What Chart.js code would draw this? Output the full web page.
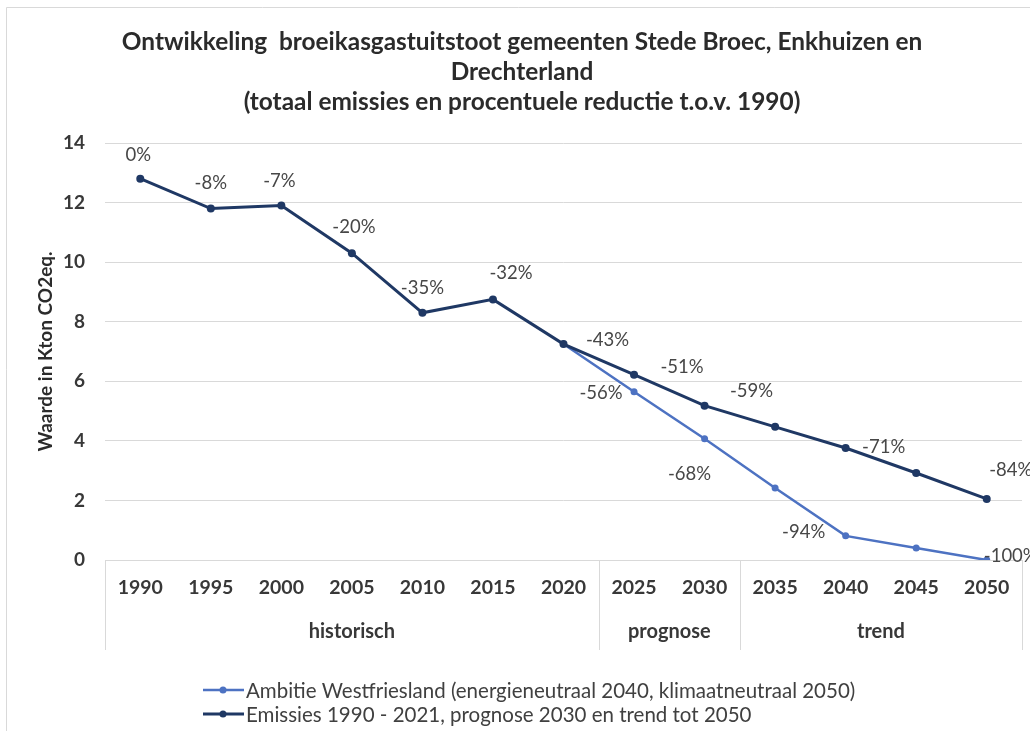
<!DOCTYPE html>
<html>
<head>
<meta charset="utf-8">
<script src="https://cdn.jsdelivr.net/npm/chart.js@4.4.1/dist/chart.umd.min.js"></script>
<style>
  html, body { margin: 0; padding: 0; background: #ffffff; }
  #wrap { width: 1030px; height: 731px; position: relative; }
</style>
</head>
<body>
<div id="wrap"><canvas id="c" width="1030" height="731"></canvas></div>
<script>
// ---- data ----
const categories = ['1990','1995','2000','2005','2010','2015','2020','2025','2030','2035','2040','2045','2050'];
const emissies = [12.8, 11.8, 11.9, 10.3, 8.3, 8.75, 7.25, 6.22, 5.18, 4.47, 3.76, 2.92, 2.05];
const ambitie  = [null, null, null, null, null, null, 7.25, 5.65, 4.07, 2.42, 0.81, 0.40, 0.0];
const emissiesLabels = ['0%','-8%','-7%','-20%','-35%','-32%','-43%','-51%','-59%',null,'-71%',null,'-84%'];
const ambitieLabels  = [null,null,null,null,null,null,null,'-56%','-68%',null,'-94%',null,'-100%'];
const groupNames = ['historisch','prognose','trend'];
const groupStart = [0, 7, 9];
const groupEnd   = [6, 8, 12];
const titleLines = ['Ontwikkeling  broeikasgastuitstoot gemeenten Stede Broec, Enkhuizen en','Drechterland','(totaal emissies en procentuele reductie t.o.v. 1990)'];
const seriesNames = ['Ambitie Westfriesland (energieneutraal 2040, klimaatneutraal 2050)','Emissies 1990 - 2021, prognose 2030 en trend tot 2050'];
const yAxisTitle = 'Waarde in Kton CO2eq.';

// ---- label placement (offsets from point, px) ----
const emissiesLabelPos = [[-2,-24],[0,-25],[-2,-25],[2,-26],[0,-25],[18,-26],[44,-4],[48,-8],[47,-15],null,[38,-1],null,[24,-29]];
const ambitieLabelPos  = [null,null,null,null,null,null,null,[-33,1],[-15,35],null,[-42,-4],null,[24,-4]];

const FONT = 'Lato, "Open Sans", sans-serif';
const DARK = '#1f3864';
const LIGHT = '#4d72c2';
const GRID = '#d9d9d9';
const TXT = '#383838';

const frame = {
  id: 'frame',
  beforeDraw(chart) {
    const ctx = chart.ctx;
    ctx.save();
    ctx.fillStyle = '#fff';
    ctx.fillRect(0, 0, chart.width, chart.height);
    ctx.strokeStyle = GRID;
    ctx.lineWidth = 1;
    ctx.beginPath();
    ctx.moveTo(6.5, chart.height);
    ctx.lineTo(6.5, 7.5);
    ctx.lineTo(chart.width, 7.5);
    ctx.stroke();
    ctx.restore();
  }
};

const extras = {
  id: 'extras',
  afterDraw(chart) {
    const ctx = chart.ctx;
    const xs = chart.scales.x;
    const area = chart.chartArea;
    ctx.save();
    // title
    ctx.fillStyle = '#2b2b2b';
    ctx.font = 'bold 24.4px ' + FONT;
    ctx.textAlign = 'center';
    ctx.textBaseline = 'middle';
    titleLines.forEach((t, i) => ctx.fillText(t, 522, 42 + i * 30));

    // group separators
    ctx.strokeStyle = GRID;
    ctx.lineWidth = 1;
    const half = (xs.getPixelForValue(1) - xs.getPixelForValue(0)) / 2;
    const bounds = [];
    groupStart.forEach((s) => bounds.push(xs.getPixelForValue(s) - half));
    bounds.push(xs.getPixelForValue(groupEnd[groupEnd.length - 1]) + half);
    bounds.forEach((bx) => {
      ctx.beginPath();
      ctx.moveTo(Math.round(bx) + 0.5, area.bottom);
      ctx.lineTo(Math.round(bx) + 0.5, 650);
      ctx.stroke();
    });
    // group labels
    ctx.fillStyle = TXT;
    ctx.font = 'bold 20px ' + FONT;
    groupNames.forEach((g, i) => {
      const cx = (xs.getPixelForValue(groupStart[i]) + xs.getPixelForValue(groupEnd[i])) / 2;
      ctx.fillText(g, cx, 632);
    });

    // legend
    const legendY = [690, 714];
    const colors = [LIGHT, DARK];
    const widths = [2.5, 3];
    ctx.font = '20.5px ' + FONT;
    ctx.textAlign = 'left';
    seriesNames.forEach((n, i) => {
      const y = legendY[i];
      ctx.strokeStyle = colors[i];
      ctx.lineWidth = widths[i];
      ctx.beginPath();
      ctx.moveTo(203, y);
      ctx.lineTo(244, y);
      ctx.stroke();
      ctx.fillStyle = colors[i];
      ctx.beginPath();
      ctx.arc(223, y, 3.5, 0, Math.PI * 2);
      ctx.fill();
      ctx.fillStyle = '#404040';
      ctx.fillText(n, 246, y + 1);
    });
    ctx.restore();
  }
};

const dataLabels = {
  id: 'dataLabels',
  afterDatasetsDraw(chart) {
    const ctx = chart.ctx;
    ctx.save();
    ctx.font = '18.5px ' + FONT;
    ctx.fillStyle = '#474747';
    ctx.textAlign = 'center';
    ctx.textBaseline = 'middle';
    const sets = [[ambitieLabels, ambitieLabelPos], [emissiesLabels, emissiesLabelPos]];
    chart.data.datasets.forEach((ds, di) => {
      const meta = chart.getDatasetMeta(di);
      const [labels, pos] = sets[di];
      meta.data.forEach((el, i) => {
        if (!labels[i] || !pos[i]) return;
        ctx.fillText(labels[i], el.x + pos[i][0], el.y + pos[i][1]);
      });
    });
    ctx.restore();
  }
};

new Chart(document.getElementById('c'), {
  type: 'line',
  data: {
    labels: categories,
    datasets: [
      {
        label: seriesNames[0],
        data: ambitie,
        borderColor: LIGHT,
        backgroundColor: LIGHT,
        borderWidth: 2.5,
        pointRadius: 3.5,
        pointBackgroundColor: LIGHT,
        pointBorderWidth: 0,
        tension: 0,
        order: 1
      },
      {
        label: seriesNames[1],
        data: emissies,
        borderColor: DARK,
        backgroundColor: DARK,
        borderWidth: 3,
        pointRadius: 4,
        pointBackgroundColor: DARK,
        pointBorderWidth: 0,
        tension: 0,
        order: 0
      }
    ]
  },
  options: {
    responsive: false,
    animation: false,
    devicePixelRatio: 1,
    layout: { padding: { left: 20, right: 8, top: 143, bottom: 131 } },
    plugins: {
      legend: { display: false },
      title: { display: false },
      tooltip: { enabled: false }
    },
    scales: {
      x: {
        type: 'category',
        offset: true,
        grid: { display: false, drawTicks: false },
        border: { display: true, color: GRID, width: 1 },
        ticks: { color: TXT, font: { family: FONT, size: 19.5, weight: 'bold' }, padding: 16, maxRotation: 0, autoSkip: false },
        afterFit(scale) { scale.height = 40; }
      },
      y: {
        min: 0,
        max: 14,
        ticks: { stepSize: 2, color: TXT, font: { family: FONT, size: 19, weight: 'bold' }, padding: 20 },
        grid: { color: GRID, lineWidth: 1, drawTicks: false },
        border: { display: false },
        title: { display: true, text: yAxisTitle, color: '#2b2b2b', font: { family: FONT, size: 19, weight: 'bold' }, padding: { top: 14, bottom: 0 } },
        afterFit(scale) { scale.width = 85; }
      }
    }
  },
  plugins: [frame, dataLabels, extras]
});
</script>
</body>
</html>
